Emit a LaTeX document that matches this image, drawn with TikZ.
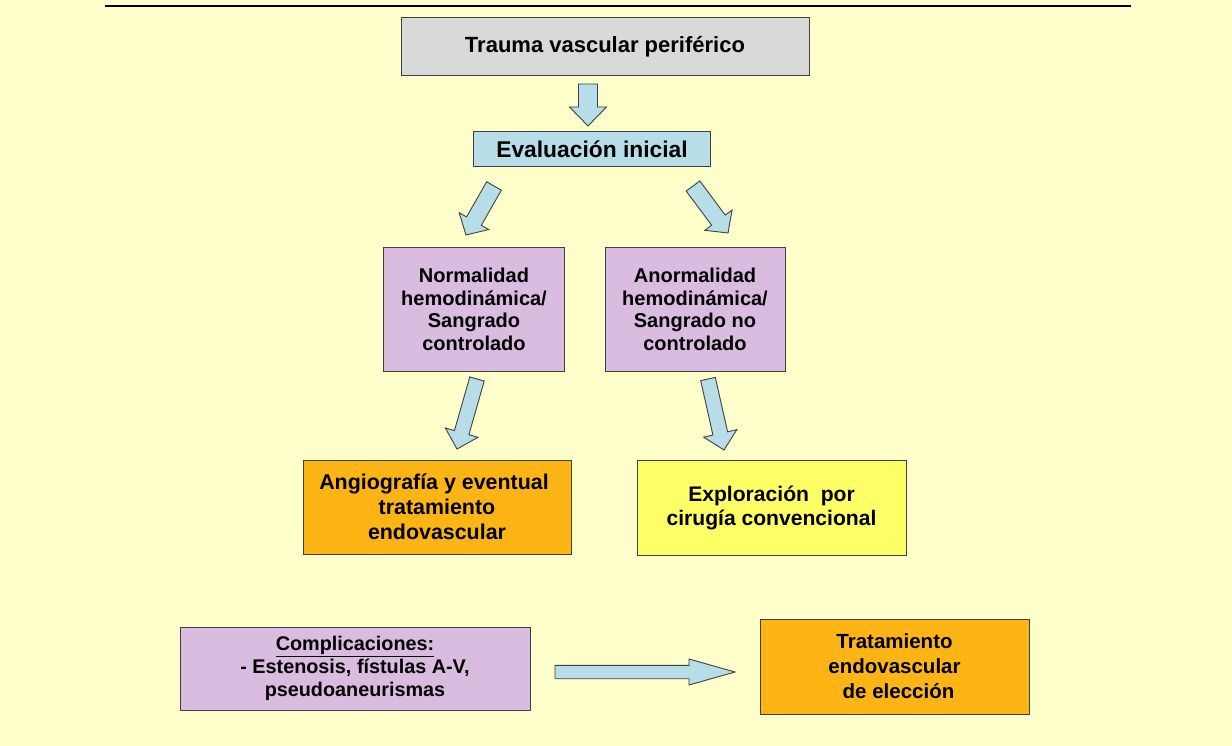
\documentclass[tikz,border=0pt]{standalone}
\usepackage{fontspec}
\setmainfont{Liberation Sans}
\usetikzlibrary{calc}
\definecolor{bgyellow}{HTML}{FFFFCC}
\definecolor{boxgray}{HTML}{D9D9D9}
\definecolor{boxblue}{HTML}{B7DEE8}
\definecolor{boxpurple}{HTML}{D9BCE0}
\definecolor{boxorange}{HTML}{FCB515}
\definecolor{boxyellow}{HTML}{FFFF66}
\definecolor{edgegray}{HTML}{404040}
% #1 start, #2 tip, #3 half shaft width, #4 half head width, #5 head length
\newcommand\fatarrow[5]{%
  \coordinate (fa-h) at ($(#2)!#5!(#1)$);
  \draw[bigarrow] ($(#1)!#3!90:(#2)$) -- ($(fa-h)!#3!90:(#2)$) -- ($(fa-h)!#4!90:(#2)$)
    -- (#2) -- ($(fa-h)!#4!-90:(#2)$) -- ($(fa-h)!#3!-90:(#2)$) -- ($(#1)!#3!-90:(#2)$) -- cycle;}
\begin{document}
\begin{tikzpicture}[x=1pt,y=-1pt,
  box/.style={draw=edgegray, line width=1pt, align=center, inner sep=0pt,
    font=\bfseries\fontsize{20.5}{25}\selectfont},
  bigarrow/.style={draw=edgegray, fill=boxblue, line width=0.9pt, line join=miter}]
\useasboundingbox (0,0) rectangle (1232,746);
\fill[bgyellow] (0,0) rectangle (1232,746);
\coordinate (rl) at (105,6);
\coordinate (rr) at (1131,6);
\draw[line width=1.3pt] (rl) -- (rr);

\node[box, fill=boxgray, minimum width=408pt, minimum height=58pt,
  font=\bfseries\fontsize{22}{26}\selectfont] (trauma) at (605,47) {Trauma vascular periférico};
\node[box, fill=boxblue, minimum width=237pt, minimum height=35pt,
  font=\bfseries\fontsize{22.8}{26}\selectfont] (eval) at (592,149.5) {Evaluación inicial};
\node[box, fill=boxpurple, minimum width=181pt, minimum height=123pt,
  font=\bfseries\fontsize{20}{22.5}\selectfont] (norm) at (474,309.5)
  {Normalidad\\hemodinámica/\\Sangrado\\controlado};
\node[box, fill=boxpurple, minimum width=180pt, minimum height=123pt,
  font=\bfseries\fontsize{20}{22.5}\selectfont] (anorm) at (695,309.5)
  {Anormalidad\\hemodinámica/\\Sangrado no\\controlado};
\node[box, fill=boxorange, minimum width=268pt, minimum height=94pt,
  font=\bfseries\fontsize{21.4}{25}\selectfont] (angio) at (437,507)
  {\hspace*{-6pt}Angiografía y eventual\\tratamiento\\endovascular};
\node[box, fill=boxyellow, minimum width=269pt, minimum height=95pt,
  font=\bfseries\fontsize{21.1}{24}\selectfont] (explo) at (771.5,507.5)
  {Exploración\ \ por\\cirugía convencional};
\node[box, fill=boxpurple, minimum width=350pt, minimum height=83pt,
  font=\bfseries\fontsize{19.8}{23}\selectfont] (compl) at (355,668.5)
  {\underline{Complicaciones:}\\- Estenosis, fístulas A-V,\\pseudoaneurismas};
\node[box, fill=boxorange, minimum width=269pt, minimum height=95pt] (trat) at (894.5,666.5)
  {Tratamiento\\endovascular\\\hspace*{8pt}de elección};

\coordinate (a1s) at (588,84);   \coordinate (a1e) at (588,126);
\coordinate (a2s) at (494,186);  \coordinate (a2e) at (466,235);
\coordinate (a3s) at (693,186);  \coordinate (a3e) at (728,233);
\coordinate (a4s) at (477,379);  \coordinate (a4e) at (457,449);
\coordinate (a5s) at (708,379);  \coordinate (a5e) at (724,450);
\coordinate (a6s) at (555,672);  \coordinate (a6e) at (735,672);
\fatarrow{a1s}{a1e}{9.5pt}{18.5pt}{19pt}
\fatarrow{a2s}{a2e}{8.5pt}{17pt}{16pt}
\fatarrow{a3s}{a3e}{8.5pt}{17pt}{16pt}
\fatarrow{a4s}{a4e}{7.5pt}{17pt}{17pt}
\fatarrow{a5s}{a5e}{7.5pt}{17pt}{17pt}
\fatarrow{a6s}{a6e}{6.7pt}{13pt}{46pt}
\end{tikzpicture}
\end{document}
